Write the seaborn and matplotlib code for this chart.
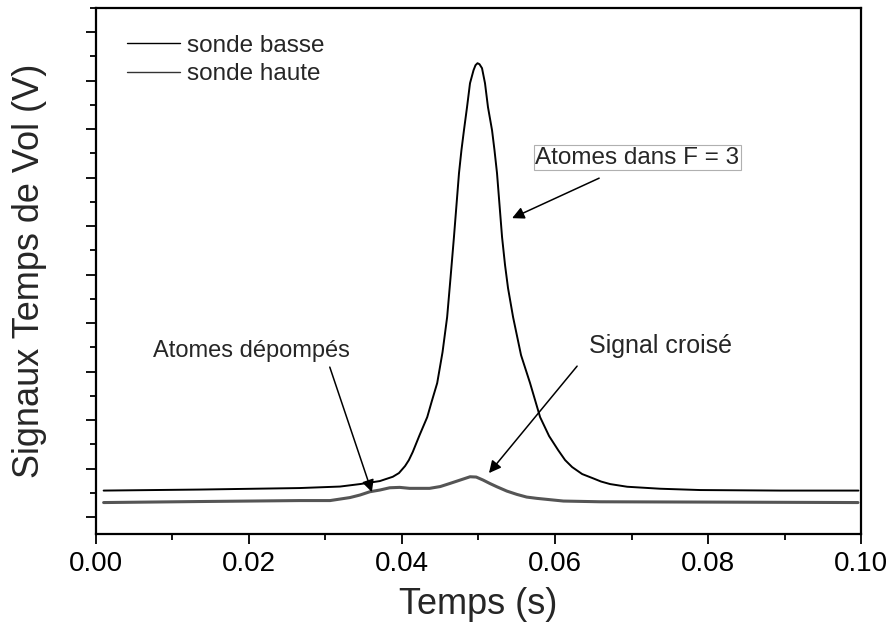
import matplotlib
matplotlib.use("Agg")
import matplotlib.pyplot as plt
from matplotlib.lines import Line2D
from matplotlib.ticker import MultipleLocator, NullFormatter
import pandas as pd
import seaborn as sns

# Time-of-flight signals (time in s, signal in V)
t_basse = [0.0010, 0.0135, 0.0266, 0.0319, 0.0345, 0.0371, 0.0388, 0.0396,
           0.0404, 0.0409, 0.0414, 0.0423, 0.0433, 0.0439, 0.0446, 0.0453,
           0.0459, 0.04634, 0.04679, 0.04712, 0.04745, 0.04777, 0.04810,
           0.04850, 0.04889, 0.04935, 0.04961, 0.04987, 0.05013, 0.05046,
           0.05085, 0.05124, 0.05177, 0.05209, 0.05242, 0.05275, 0.05308,
           0.05347, 0.05386, 0.05452, 0.05556, 0.05674, 0.05805, 0.05923,
           0.06041, 0.06132, 0.06224, 0.06355, 0.06499, 0.06603, 0.06721,
           0.06944, 0.07376, 0.07899, 0.08946, 0.09967]
v_basse = [0.0546, 0.0567, 0.0598, 0.0629, 0.0680, 0.0742, 0.0831, 0.0907,
           0.1052, 0.1175, 0.1340, 0.1691, 0.2062, 0.2392, 0.2763, 0.3402,
           0.4124, 0.4928, 0.5773, 0.6433, 0.7093, 0.7567, 0.7979,
           0.8454, 0.8948, 0.9216, 0.9320, 0.9361, 0.9340, 0.9258,
           0.8948, 0.8454, 0.7979, 0.7567, 0.7093, 0.6433, 0.5773,
           0.5196, 0.4722, 0.4124, 0.3340, 0.2763, 0.2062, 0.1670,
           0.1381, 0.1175, 0.1031, 0.0887, 0.0798, 0.0732, 0.0680,
           0.0625, 0.0584, 0.0557, 0.0546, 0.0546]

t_haute = [0.0010, 0.0135, 0.0266, 0.0306, 0.0332, 0.0345, 0.0358, 0.0371,
           0.0384, 0.0397, 0.0410, 0.0436, 0.0450, 0.0463, 0.0476, 0.0489,
           0.0497, 0.0506, 0.0515, 0.0524, 0.0537, 0.0550, 0.0563, 0.0576,
           0.0611, 0.0659, 0.0790, 0.0996]
v_haute = [0.0299, 0.0320, 0.0340, 0.0340, 0.0402, 0.0454, 0.0522, 0.0557,
           0.0604, 0.0612, 0.0592, 0.0592, 0.0629, 0.0695, 0.0763, 0.0831,
           0.0825, 0.0763, 0.0691, 0.0625, 0.0536, 0.0468, 0.0412, 0.0386,
           0.0330, 0.0315, 0.0309, 0.0299]

series_names = ["sonde basse", "sonde haute"]
series_colors = ["#000000", "#555555"]

df = pd.concat([
    pd.DataFrame({"Temps": t_basse, "Signal": v_basse, "sonde": series_names[0]}),
    pd.DataFrame({"Temps": t_haute, "Signal": v_haute, "sonde": series_names[1]}),
], ignore_index=True)

sns.set_theme(style="ticks")
plt.rcParams["font.family"] = ["Liberation Sans", "DejaVu Sans"]

fig = plt.figure(figsize=(8.88, 6.24), dpi=100)
ax = fig.add_axes([0.1081, 0.1442, 0.8615, 0.8430])

sns.lineplot(data=df, x="Temps", y="Signal", hue="sonde", hue_order=series_names,
             palette=dict(zip(series_names, series_colors)), sort=False,
             estimator=None, legend=False, ax=ax)
for line, lw in zip(ax.lines, [1.4, 2.2]):
    line.set_linewidth(lw)
    line.set_solid_joinstyle("round")

ax.set_xlim(0.0, 0.1)
ax.set_ylim(-0.035, 1.05)
ax.xaxis.set_minor_locator(MultipleLocator(0.01))
ax.yaxis.set_major_locator(MultipleLocator(0.1))
ax.yaxis.set_minor_locator(MultipleLocator(0.05))
ax.yaxis.set_major_formatter(NullFormatter())
ax.set_xticks([0.0, 0.02, 0.04, 0.06, 0.08, 0.10])
ax.set_xticklabels(["0.00", "0.02", "0.04", "0.06", "0.08", "0.10"])

for side in ["left", "right", "top", "bottom"]:
    ax.spines[side].set_linewidth(1.6)
    ax.spines[side].set_color("black")
ax.tick_params(which="major", direction="out", length=7.5, width=1.3,
               colors="black", labelsize=20, pad=5)
ax.tick_params(which="minor", direction="out", length=4, width=1.3, colors="black")
ax.tick_params(top=False, right=False, which="both")

ax.set_xlabel("Temps (s)", fontsize=26, labelpad=7)
ax.set_ylabel("Signaux Temps de Vol (V)", fontsize=26, labelpad=22.5)

# Legend
handles = [Line2D([], [], color="black", lw=1.0),
           Line2D([], [], color="#333333", lw=1.0)]
ax.legend(handles, series_names, loc="upper left", bbox_to_anchor=(0.0405, 0.949),
          frameon=False, fontsize=17.5, handlelength=2.2, handletextpad=0.27,
          labelspacing=0.27, borderpad=0, borderaxespad=0)

# Annotations
arrow = dict(arrowstyle="-|>", color="black", lw=1.1, mutation_scale=18,
             shrinkA=0, shrinkB=0)
ax.text(0.07075, 0.7412, "Atomes dans F = 3", fontsize=17.5, ha="center", va="center",
        bbox=dict(boxstyle="square,pad=0.06", fc="white", ec="#b0b0b0", lw=0.8))
ax.annotate("", xy=(0.05439, 0.6165), xytext=(0.06577, 0.6990), arrowprops=arrow)

ax.text(0.07376, 0.3526, "Signal croisé", fontsize=18, ha="center", va="center")
ax.annotate("", xy=(0.05137, 0.0907), xytext=(0.06289, 0.3113), arrowprops=arrow)

ax.text(0.02029, 0.3423, "Atomes dépompés", fontsize=17, ha="center", va="center")
ax.annotate("", xy=(0.03606, 0.0515), xytext=(0.03056, 0.3093), arrowprops=arrow)

fig.savefig("out.png", dpi=100)
